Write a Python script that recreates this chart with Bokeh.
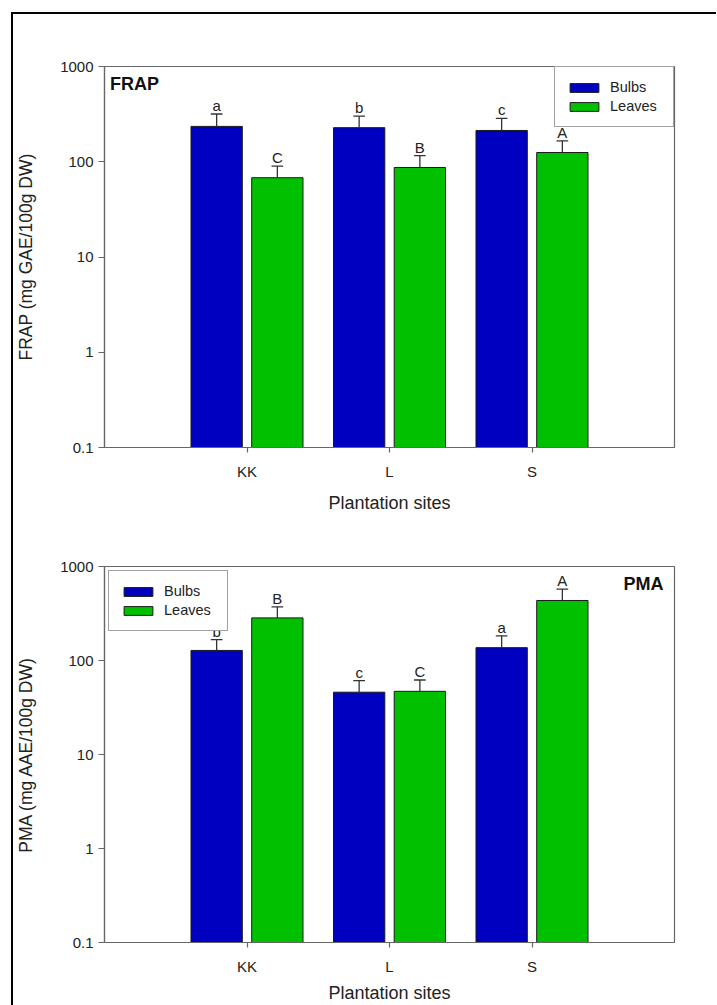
from bokeh.plotting import figure
from bokeh.models import Range1d, FixedTicker, CustomJSTickFormatter, Legend, LegendItem, Label
from bokeh.layouts import column
from bokeh.core.properties import value
from bokeh.embed import file_html
from bokeh.resources import INLINE

# ---- data ----
sites = ["KK", "L", "S"]
series_names = ["Bulbs", "Leaves"]

frap_bulbs = [235, 228, 213]
frap_bulbs_err = [82, 74, 72]
frap_leaves = [68, 87, 125]
frap_leaves_err = [22, 29, 41]
frap_bulbs_letters = ["a", "b", "c"]
frap_leaves_letters = ["C", "B", "A"]

pma_bulbs = [128, 46, 137]
pma_bulbs_err = [39, 15, 46]
pma_leaves = [284, 47, 435]
pma_leaves_err = [88, 15, 140]
pma_bulbs_letters = ["b", "c", "a"]
pma_leaves_letters = ["B", "C", "A"]

y_ticks = [0.1, 1, 10, 100, 1000]

BLUE = "#0000C0"
GREEN = "#00C000"
AX = "#666666"
TXT = "#222222"
FONT = "Liberation Sans"


def make_panel(title, ylabel, bulbs, bulbs_err, leaves, leaves_err, lb, ll,
               legend_loc, legend_margin, title_right, frame_h, top_b, bottom_b,
               xlabel_standoff):
    p = figure(frame_width=570, frame_height=frame_h,
               min_border_left=90, min_border_right=42,
               min_border_top=top_b, min_border_bottom=bottom_b,
               x_range=Range1d(0, len(sites) + 1),
               y_range=Range1d(y_ticks[0], y_ticks[-1]),
               y_axis_type="log", output_backend="svg", toolbar_location=None)
    p.xgrid.visible = False
    p.ygrid.visible = False
    p.outline_line_color = AX
    p.outline_line_width = 1.2
    p.background_fill_color = "white"
    p.border_fill_color = "white"

    xs = [i + 1 for i in range(len(sites))]
    off, bw, cap = 0.213, 0.36, 0.041
    groups = [(bulbs, bulbs_err, lb, BLUE, -off), (leaves, leaves_err, ll, GREEN, off)]
    rends = []
    for vals, errs, letters, col, o in groups:
        x = [xi + o for xi in xs]
        tops = [v + e for v, e in zip(vals, errs)]
        r = p.vbar(x=x, top=vals, bottom=y_ticks[0], width=bw,
                   fill_color=col, line_color="#1a1a1a", line_width=1)
        rends.append(r)
        p.segment(x0=x, y0=vals, x1=x, y1=tops, line_color="#333333", line_width=1.3)
        p.segment(x0=[xi - cap for xi in x], y0=tops, x1=[xi + cap for xi in x], y1=tops,
                  line_color="#333333", line_width=1.3)
        p.text(x=x, y=tops, text=letters, text_align="center", text_baseline="bottom",
               text_font=value(FONT), text_font_size="15px", text_color=TXT)

    legend = Legend(items=[LegendItem(label=series_names[0], renderers=[rends[0]]),
                           LegendItem(label=series_names[1], renderers=[rends[1]])],
                    location=legend_loc, margin=legend_margin,
                    glyph_width=36, glyph_height=11, label_height=18, label_width=52,
                    label_standoff=8, padding=11, spacing=1,
                    border_line_color="#444444", border_line_width=1,
                    background_fill_color="white", background_fill_alpha=1,
                    label_text_font=FONT, label_text_font_size="14.5px",
                    label_text_color=TXT)
    p.add_layout(legend)

    if title_right:
        lab = Label(x=570 - 11, y=frame_h - 7, x_units="screen", y_units="screen",
                    text=title, text_align="right", text_baseline="top")
    else:
        lab = Label(x=5.5, y=frame_h - 7, x_units="screen", y_units="screen",
                    text=title, text_align="left", text_baseline="top")
    lab.text_font = FONT
    lab.text_font_size = "18px"
    lab.text_font_style = "bold"
    lab.text_color = "#111111"
    p.add_layout(lab)

    # axes
    for ax in (p.xaxis[0], p.yaxis[0]):
        ax.axis_line_color = AX
        ax.axis_line_width = 1.2
        ax.major_tick_line_color = AX
        ax.major_tick_line_width = 1.2
        ax.minor_tick_line_color = None
        ax.major_tick_in = 0
        ax.major_label_text_font = FONT
        ax.major_label_text_font_size = "15px"
        ax.major_label_text_color = TXT
        ax.axis_label_text_font = FONT
        ax.axis_label_text_font_style = "normal"
        ax.axis_label_text_color = TXT

    p.xaxis.ticker = FixedTicker(ticks=xs)
    p.xaxis.formatter = CustomJSTickFormatter(args=dict(labels=sites),
                                              code="const i = Math.round(tick) - 1; return (i >= 0 && i < labels.length) ? labels[i] : '';")
    p.xaxis.major_tick_out = 5
    p.xaxis.major_label_standoff = 10
    p.xaxis.axis_label = "Plantation sites"
    p.xaxis.axis_label_text_font_size = "18px"
    p.xaxis.axis_label_standoff = xlabel_standoff

    p.yaxis.ticker = FixedTicker(ticks=y_ticks)
    p.yaxis.formatter = CustomJSTickFormatter(code="return tick < 1 ? tick.toFixed(1) : tick.toFixed(0);")
    p.yaxis.major_tick_out = 6
    p.yaxis.major_label_standoff = 5
    p.yaxis.axis_label = ylabel
    p.yaxis.axis_label_text_font_size = "17.5px"
    p.yaxis.axis_label_standoff = 21
    return p


p1 = make_panel("FRAP", "FRAP (mg GAE/100g DW)", frap_bulbs, frap_bulbs_err,
                frap_leaves, frap_leaves_err, frap_bulbs_letters, frap_leaves_letters,
                "top_right", 0, False, 381, 52, 69, 10)
p2 = make_panel("PMA", "PMA (mg AAE/100g DW)", pma_bulbs, pma_bulbs_err,
                pma_leaves, pma_leaves_err, pma_bulbs_letters, pma_leaves_letters,
                "top_left", 4, True, 376, 50, 63, 5)

layout = column(p1, p2, spacing=0,
                styles={"margin-left": "11px", "margin-top": "12px",
                        "border-left": "2px solid #000", "border-top": "2px solid #000",
                        "margin-bottom": "-24px"})

open("out.html", "w").write(file_html(layout, INLINE))
